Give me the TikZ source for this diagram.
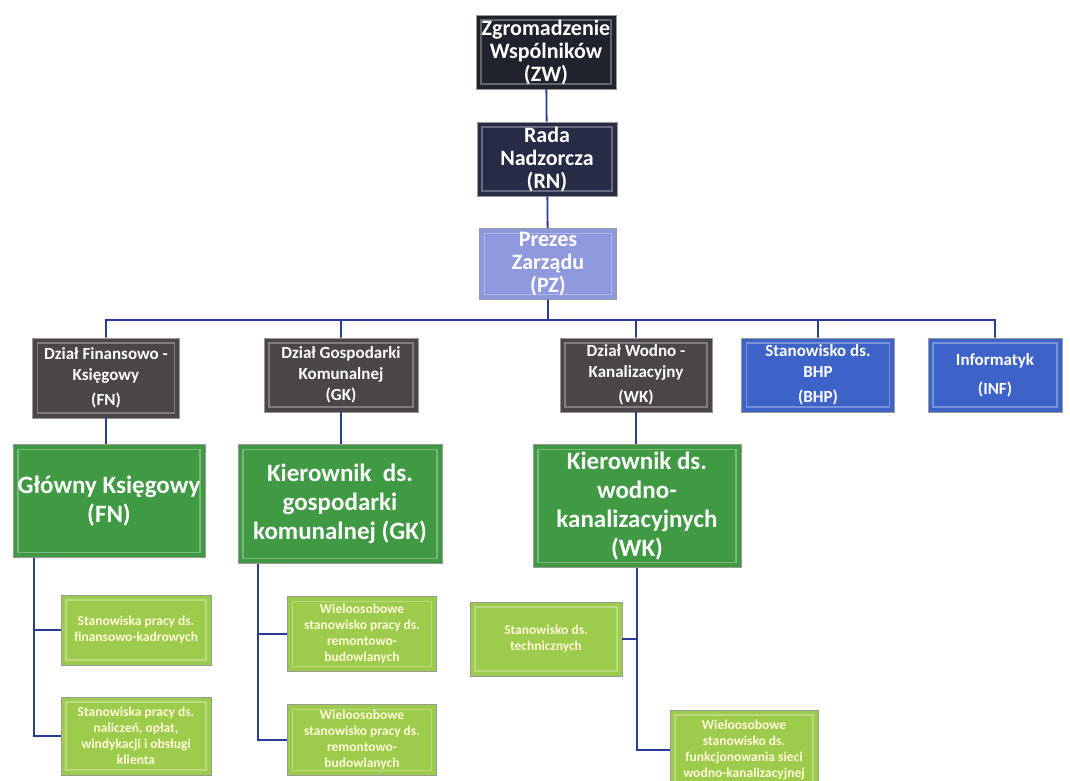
\documentclass[tikz,border=0pt]{standalone}
\usepackage{fontspec}
\setmainfont{Carlito}
\usetikzlibrary{positioning}

\definecolor{zwcol}{HTML}{20232E}
\definecolor{rncol}{HTML}{262C45}
\definecolor{pzcol}{HTML}{8E99DE}
\definecolor{dzcol}{HTML}{4B4448}
\definecolor{stcol}{HTML}{3D63C9}
\definecolor{kicol}{HTML}{3F9A43}
\definecolor{wscol}{HTML}{9DCB4C}
\definecolor{linkcol}{HTML}{2B3B9B}

\tikzset{
  box/.style={rectangle, draw=black!40, line width=0.6pt, text=white,
    align=center, inner sep=1pt, font=\bfseries,
    path picture={\draw[white, opacity=.3, line width=1.2pt]
      ([shift={(5pt,-5pt)}]path picture bounding box.north west) rectangle
      ([shift={(-5pt,5pt)}]path picture bounding box.south east);}},
  topbox/.style={box, minimum width=140pt, minimum height=74pt,
    font=\bfseries\fontsize{22}{23}\selectfont},
  deptbox/.style={box, fill=dzcol, minimum width=152pt, minimum height=74pt,
    font=\bfseries\fontsize{17}{21}\selectfont},
  headbox/.style={box, fill=kicol, font=\bfseries\fontsize{25}{29}\selectfont},
  workbox/.style={box, fill=wscol, text=yellow!15, minimum width=150pt,
    font=\bfseries\fontsize{13.5}{16}\selectfont},
  link/.style={draw=linkcol, line width=1.8pt}
}

\begin{document}
\begin{tikzpicture}[x=1pt, y=-1pt]
  \useasboundingbox (0,0) rectangle (1070,781);

  % top of the chart
  \node[topbox, fill=zwcol] (zw) at (546,52) {Zgromadzenie\\Wspólników\\(ZW)};
  \node[topbox, fill=rncol] (rn) at (547,159) {Rada\\Nadzorcza\\(RN)};
  \node[topbox, fill=pzcol, minimum width=137pt, minimum height=71pt] (pz) at (548,264) {Prezes\\Zarządu\\(PZ)};

  % departments
  \node[deptbox, minimum width=147pt, minimum height=80pt] (fn) at (106,378) {Dział Finansowo -\\Księgowy\\[4pt](FN)};
  \node[deptbox, minimum width=154pt] (gk) at (341,375) {Dział Gospodarki\\Komunalnej\\(GK)};
  \node[deptbox] (wk) at (636,375) {Dział Wodno -\\Kanalizacyjny\\[4pt](WK)};
  \node[deptbox, fill=stcol, minimum width=153pt] (bhp) at (818,375) {Stanowisko ds.\\BHP\\[4pt](BHP)};
  \node[deptbox, fill=stcol, minimum width=134pt] (inf) at (995,375) {Informatyk\\[8pt](INF)};

  % heads
  \node[headbox, minimum width=192pt, minimum height=113pt] (fnk) at (109,501) {Główny Księgowy\\(FN)};
  \node[headbox, minimum width=204pt, minimum height=119pt] (gkk) at (340,504) {Kierownik~ ds.\\gospodarki\\komunalnej (GK)};
  \node[headbox, minimum width=208pt, minimum height=123pt] (wkk) at (637,506) {Kierownik ds.\\wodno-\\kanalizacyjnych\\(WK)};

  % posts
  \node[workbox, minimum height=70pt] (fn1) at (136,630) {Stanowiska pracy ds.\\finansowo-kadrowych};
  \node[workbox, minimum height=78pt] (fn2) at (136,736) {Stanowiska pracy ds.\\naliczeń, opłat,\\windykacji i obsługi\\klienta};
  \node[workbox, minimum width=149pt, minimum height=75pt] (gk1) at (362,634) {Wieloosobowe\\stanowisko pracy ds.\\remontowo-\\budowlanych};
  \node[workbox, minimum width=149pt, minimum height=71pt] (gk2) at (362,740) {Wieloosobowe\\stanowisko pracy ds.\\remontowo-\\budowlanych};
  \node[workbox, minimum width=152pt, minimum height=74pt] (wk1) at (546,639) {Stanowisko ds.\\technicznych};
  \node[workbox, minimum width=148pt, minimum height=80pt] (wk2) at (744,750) {Wieloosobowe\\stanowisko ds.\\funkcjonowania sieci\\wodno-kanalizacyjnej};

  \coordinate (bus) at (548,320);

  \path[link]
    (zw) -- (rn)
    (rn) -- (pz)
    (pz) -- (bus)
    (bus) -| (fn.north)
    (bus) -| (gk.north)
    (bus) -| (wk.north)
    (bus) -| (bhp.north)
    (bus) -| (inf.north);

  \path[link]
    (fn.south) -- (fn.south |- fnk.north)
    (gk.south) -- (gk.south |- gkk.north)
    (wk.south) -- (wk.south |- wkk.north);

  \path[link]
    ([xshift=21pt]fnk.south west) |- (fn1.west)
    ([xshift=21pt]fnk.south west) |- (fn2.west)
    ([xshift=20pt]gkk.south west) |- (gk1.west)
    ([xshift=20pt]gkk.south west) |- (gk2.west)
    (wkk.south) |- (wk1.east)
    (wkk.south) |- (wk2.west);
\end{tikzpicture}
\end{document}
